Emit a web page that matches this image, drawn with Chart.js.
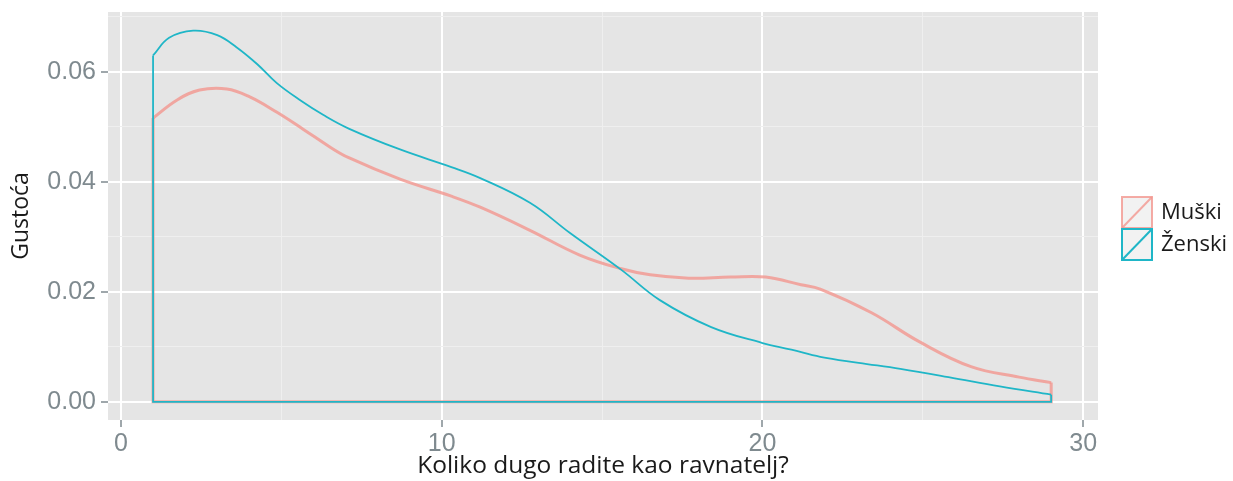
<!DOCTYPE html>
<html>
<head>
<meta charset="utf-8">
<script src="https://cdn.jsdelivr.net/npm/chart.js@4.4.1/dist/chart.umd.min.js"></script>
<style>
  html, body { margin: 0; padding: 0; background: #ffffff; }
  #wrap { width: 1233px; height: 481px; }
</style>
</head>
<body>
<div id="wrap"><canvas id="density" width="1233" height="481"></canvas></div>

<script type="text/javascript">
    // density curves (x = years, y = density)
    var muskiX = [1, 1.75, 2.45, 3.3, 4.0, 4.85, 5.7, 6.5, 7.1, 8.7, 10.3, 11.2, 12.75, 14.3, 15.6, 16.5, 17.7, 19, 20.1, 21.2, 21.8, 23.4, 24.9, 26.5, 28, 29];
    var muskiY = [0.0516, 0.0549, 0.0567, 0.0569, 0.0555, 0.0527, 0.0495, 0.0464, 0.0444, 0.0405, 0.0374, 0.0354, 0.0312, 0.0267, 0.0242, 0.0231, 0.0225, 0.0227, 0.0227, 0.0213, 0.0205, 0.0162, 0.0109, 0.0064, 0.0045, 0.0035];

    var zenskiX = [1, 1.5, 2.25, 3.0, 3.6, 4.25, 4.85, 5.6, 6.3, 7.1, 8.7, 10.3, 11.2, 12.75, 14, 15.6, 16.8, 18.4, 20, 20.9, 21.8, 23, 24.3, 25.8, 27.4, 29];
    var zenskiY = [0.0630, 0.0662, 0.0675, 0.0667, 0.0645, 0.0614, 0.0580, 0.0548, 0.0522, 0.0497, 0.0459, 0.0427, 0.0407, 0.0362, 0.0307, 0.0240, 0.0185, 0.0136, 0.0107, 0.0095, 0.0082, 0.0071, 0.0060, 0.0045, 0.0028, 0.0013];

    var seriesNames = ["Muški", "Ženski"];
    var xTicks = [0, 5, 10, 15, 20, 25, 30];
    var xTickLabels = ["0", "", "10", "", "20", "", "30"];
    var yTicks = [0, 0.01, 0.02, 0.03, 0.04, 0.05, 0.06, 0.07];
    var yTickLabels = ["0.00", "", "0.02", "", "0.04", "", "0.06", ""];

    var pink = "rgba(243,150,142,0.8)";
    var teal = "#1fb6c7";
    var tickGrey = "#7f8a8f";

    var toPoints = function(xs, ys){
        var pts = [];
        for(var i = 0; i < xs.length; i++){
            pts.push({x: xs[i], y: ys[i]});
        }
        return pts;
    };

    // closed outline of a density polygon: left edge, baseline, right edge
    var outline = function(xs, ys){
        var n = xs.length - 1;
        return [
            {x: xs[0], y: ys[0]},
            {x: xs[0], y: 0},
            {x: xs[n], y: 0},
            {x: xs[n], y: ys[n]}
        ];
    };

    var isMajor = function(labels, index){
        return labels[index] !== "" && labels[index] !== undefined;
    };

    var panelBg = {
        id: "panelBg",
        beforeDraw: function(chart){
            var a = chart.chartArea;
            var c = chart.ctx;
            c.save();
            c.fillStyle = "#e5e5e5";
            c.fillRect(a.left, a.top, a.right - a.left, a.bottom - a.top);
            c.restore();
        }
    };

    var keyLegend = {
        id: "keyLegend",
        afterDraw: function(chart){
            var c = chart.ctx;
            var colors = [pink, teal];
            var x = 1122, w = 30, h = 31;
            var tops = [197, 229];
            c.save();
            for(var i = 0; i < seriesNames.length; i++){
                var y = tops[i];
                c.fillStyle = "#f2f2f2";
                c.fillRect(x, y, w, h);
                c.strokeStyle = colors[i];
                c.lineWidth = 2;
                c.strokeRect(x, y, w, h);
                c.beginPath();
                c.moveTo(x, y + h);
                c.lineTo(x + w, y);
                c.stroke();
                c.fillStyle = "#1a1a1a";
                c.font = "22px 'Open Sans'";
                c.textAlign = "left";
                c.textBaseline = "middle";
                c.fillText(seriesNames[i], x + 39, y + h / 2);
            }
            c.restore();
        }
    };

    var ctx = document.getElementById("density").getContext("2d");

    new Chart(ctx, {
        type: "scatter",
        data: {
            datasets: [
                {
                    label: seriesNames[1],
                    data: toPoints(zenskiX, zenskiY),
                    showLine: true,
                    borderColor: teal,
                    borderWidth: 1.8,
                    pointRadius: 0,
                    tension: 0.4,
                    fill: false
                },
                {
                    label: seriesNames[1] + " outline",
                    data: outline(zenskiX, zenskiY),
                    showLine: true,
                    borderColor: teal,
                    borderWidth: 1.8,
                    pointRadius: 0,
                    tension: 0,
                    fill: false
                },
                {
                    label: seriesNames[0],
                    data: toPoints(muskiX, muskiY),
                    showLine: true,
                    borderColor: pink,
                    borderWidth: 3,
                    pointRadius: 0,
                    tension: 0.4,
                    fill: false
                },
                {
                    label: seriesNames[0] + " outline",
                    data: outline(muskiX, muskiY),
                    showLine: true,
                    borderColor: pink,
                    borderWidth: 3,
                    pointRadius: 0,
                    tension: 0,
                    fill: false
                }
            ]
        },
        options: {
            responsive: false,
            animation: false,
            layout: { padding: { top: 12, right: 135, bottom: 0, left: 0 } },
            plugins: {
                legend: { display: false },
                tooltip: { enabled: false }
            },
            scales: {
                x: {
                    type: "linear",
                    min: -0.405,
                    max: 30.46,
                    afterBuildTicks: function(scale){
                        scale.ticks = xTicks.map(function(v){ return {value: v}; });
                    },
                    afterFit: function(scale){
                        scale.height = 61;
                        scale.paddingLeft = 0;
                        scale.paddingRight = 0;
                    },
                    border: { display: false },
                    grid: {
                        color: function(c){ return isMajor(xTickLabels, c.index) ? "#ffffff" : "#efefef"; },
                        lineWidth: function(c){ return isMajor(xTickLabels, c.index) ? 2 : 1; },
                        tickColor: function(c){ return isMajor(xTickLabels, c.index) ? tickGrey : "rgba(0,0,0,0)"; },
                        tickWidth: 1.5,
                        tickLength: 7
                    },
                    ticks: {
                        autoSkip: false,
                        maxRotation: 0,
                        padding: 2,
                        color: tickGrey,
                        font: { family: "'Liberation Sans', Arial, sans-serif", size: 25 },
                        callback: function(v, i){ return xTickLabels[i]; }
                    },
                    title: {
                        display: true,
                        text: "Koliko dugo radite kao ravnatelj?",
                        color: "#1a1a1a",
                        font: { family: "'Open Sans'", size: 24.5 },
                        padding: { top: 0, bottom: 0 }
                    }
                },
                y: {
                    type: "linear",
                    min: -0.0033,
                    max: 0.0709,
                    afterBuildTicks: function(scale){
                        scale.ticks = yTicks.map(function(v){ return {value: v}; });
                    },
                    afterFit: function(scale){
                        scale.width = 108;
                        scale.paddingTop = 0;
                        scale.paddingBottom = 0;
                    },
                    border: { display: false },
                    grid: {
                        color: function(c){ return isMajor(yTickLabels, c.index) ? "#ffffff" : "#efefef"; },
                        lineWidth: function(c){ return isMajor(yTickLabels, c.index) ? 2 : 1; },
                        tickColor: function(c){ return isMajor(yTickLabels, c.index) ? tickGrey : "rgba(0,0,0,0)"; },
                        tickWidth: 1.5,
                        tickLength: 7
                    },
                    ticks: {
                        autoSkip: false,
                        padding: 5,
                        color: tickGrey,
                        font: { family: "'Liberation Sans', Arial, sans-serif", size: 25 },
                        callback: function(v, i){ return yTickLabels[i]; }
                    },
                    title: {
                        display: true,
                        text: "Gustoća",
                        color: "#1a1a1a",
                        font: { family: "'Open Sans'", size: 23 },
                        padding: { top: 8, bottom: 0 }
                    }
                }
            }
        },
        plugins: [panelBg, keyLegend]
    });
</script>
</body>
</html>
